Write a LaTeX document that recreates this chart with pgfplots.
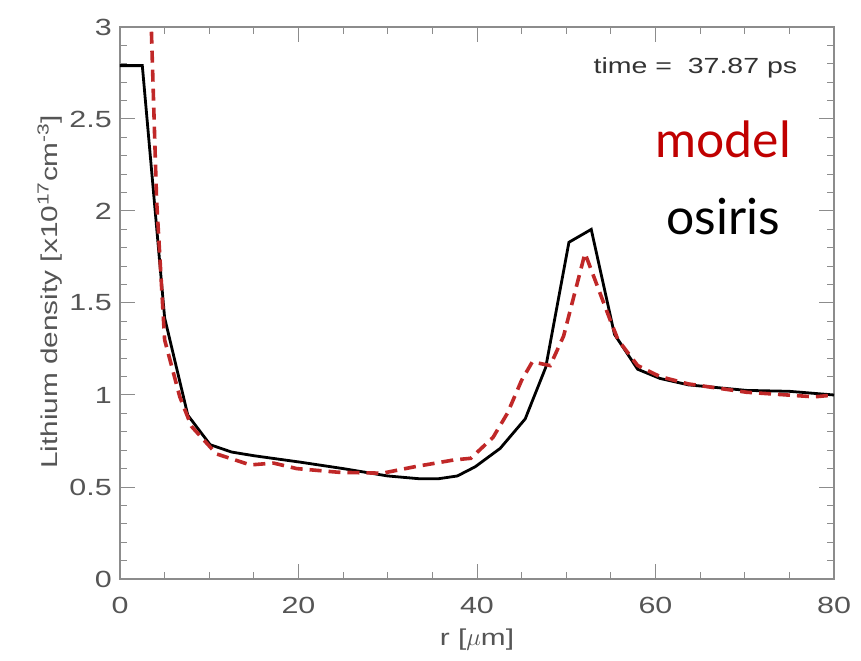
\documentclass[border=0pt]{standalone}
\usepackage{fontspec}
\setmainfont[FakeStretch=1.3]{Liberation Sans}
\newfontfamily\gill{Lato}
\usepackage{pgfplots}
\pgfplotsset{compat=1.18}
\definecolor{axgray}{RGB}{140,140,140}
\definecolor{txtgray}{RGB}{85,85,85}
\definecolor{modelred}{RGB}{192,40,40}
\definecolor{labred}{RGB}{192,0,0}
\begin{document}
\begin{tikzpicture}
\begin{axis}[
  scale only axis,
  width=714bp, height=552bp,
  xmin=0, xmax=80, ymin=0, ymax=3,
  xtick={0,20,40,60,80},
  ytick={0,0.5,1,1.5,2,2.5,3},
  minor x tick num=3,
  minor y tick num=4,
  tick align=inside,
  major tick length=15bp,
  minor tick length=7bp,
  axis line style={axgray, line width=1.2bp},
  every tick/.style={axgray, line width=1bp},
  /pgf/number format/assume math mode=true,
  ticklabel style={font=\fontsize{23.5}{26}\selectfont, text=txtgray},
  xticklabel style={anchor=north, inner sep=0pt, yshift=-18bp},
  yticklabel style={anchor=east, inner sep=0pt, xshift=-8bp},
  xlabel={r [$\mu$m]},
  ylabel={Lithium density [x10\textsuperscript{17}cm\textsuperscript{-3}]},
  label style={font=\fontsize{23}{26}\selectfont, text=txtgray, inner sep=0pt},
  xlabel style={at={(rel axis cs:0.5,0)}, anchor=north, yshift=-50bp},
  ylabel style={at={(rel axis cs:-0.098,0.52)}, anchor=center},
]
\coordinate (ll) at (rel axis cs:0,0);
\coordinate (ur) at (rel axis cs:1,1);
\addplot[black, line width=2.8bp] coordinates {
(0,2.79) (2.5,2.79) (5,1.42) (7.6,0.89) (10.1,0.73) (12.5,0.69) (15,0.67)
(20.2,0.635) (25,0.6) (30,0.56) (33.5,0.545) (35.7,0.545) (37.8,0.56)
(39.8,0.61) (42.6,0.71) (45.4,0.87) (47.7,1.15) (50.3,1.83) (52.8,1.90)
(55.4,1.33) (58,1.14) (60.5,1.09) (63.7,1.055) (70.2,1.025) (75,1.02) (80,1.0)
};
\addplot[modelred, line width=3.6bp, dash pattern=on 12bp off 7bp] coordinates {
(3.0,3.8) (4.1,2.06) (5,1.3) (6.7,0.99) (8,0.83) (10.8,0.68) (14.6,0.62)
(17.2,0.63) (19.8,0.60) (24.5,0.58) (29.4,0.575) (33,0.61) (37.4,0.647)
(39.3,0.656) (41.8,0.77) (43.4,0.90) (45,1.08) (46.2,1.18) (48.2,1.16)
(49.7,1.32) (52.1,1.77) (54.9,1.41) (55.8,1.3) (58,1.16) (60.5,1.1)
(63.7,1.06) (70.2,1.015) (77.8,0.99) (80,1.0)
};
\node[anchor=east, inner sep=0pt, font=\fontsize{22}{24}\selectfont, text=black!80] at (axis cs:75.9,2.78) {time =\ \ 37.87 ps};
\node[inner sep=0pt, font=\gill\fontsize{50}{54}\selectfont, text=labred] at (axis cs:67.6,2.39) {model};
\node[inner sep=0pt, font=\gill\fontsize{50}{54}\selectfont, text=black] at (axis cs:67.6,1.97) {osiris};
\end{axis}
\path[use as bounding box] ([shift={(-120bp,-82bp)}]ll) rectangle ([shift={(27bp,27bp)}]ur);
\end{tikzpicture}
\end{document}
